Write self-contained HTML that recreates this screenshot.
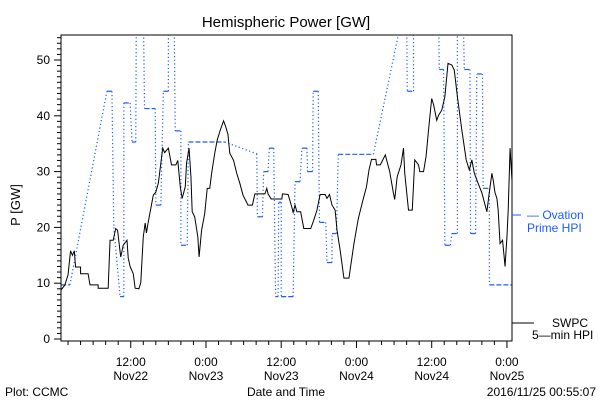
<!DOCTYPE html>
<html><head><meta charset="utf-8"><style>
body{margin:0;background:#fff;}
svg{display:block;font-family:"Liberation Sans",sans-serif;}
</style></head><body>
<svg id="chart" width="600" height="400" viewBox="0 0 600 400" xmlns="http://www.w3.org/2000/svg">
<rect x="0" y="0" width="600" height="400" fill="#fff"/>
<text x="286" y="27" font-size="15" text-anchor="middle" fill="#000">Hemispheric Power [GW]</text>
<text x="0" y="0" font-size="13" text-anchor="middle" transform="translate(20,205) rotate(-90)" fill="#000">P [GW]</text>
<text x="5" y="396" font-size="12" fill="#000">Plot: CCMC</text>
<text x="286" y="396" font-size="12" text-anchor="middle" fill="#000">Date and Time</text>
<text x="596" y="396" font-size="12" text-anchor="end" fill="#000">2016/11/25 00:55:07</text>
<g id="axes"></g>
<g id="series"></g>
<rect x="61" y="35" width="451" height="306" fill="none" stroke="#000" stroke-width="1"/>
<line x1="512" y1="215" x2="521" y2="215" stroke="#1a5cff" stroke-width="1"/>
<text x="527" y="219" font-size="12" fill="#1a5cff">— Ovation</text>
<text x="527" y="232" font-size="12" fill="#1a5cff">Prime HPI</text>
<line x1="512" y1="323" x2="534" y2="323" stroke="#000" stroke-width="1"/>
<text x="552" y="327" font-size="12" fill="#000">SWPC</text>
<text x="532" y="339" font-size="12" fill="#000">5—min HPI</text>
</svg>
<script>
// hours since Nov22 00:00, values in GW
const yTicks = [0,10,20,30,40,50];
const xTickHours = [12,24,36,48,60,72];
const xTickTop = ["12:00","0:00","12:00","0:00","12:00","0:00"];
const xTickBottom = ["Nov22","Nov23","Nov23","Nov24","Nov24","Nov25"];
const swpcHours = [0.9,1.5,2.0,2.4,2.7,3.0,3.2,4.0,4.0,5.2,5.5,6.8,6.8,8.4,8.7,9.2,9.6,9.9,10.4,10.8,11.4,11.6,11.9,12.4,12.7,13.3,13.6,14.0,14.3,14.5,14.8,15.2,15.6,16.0,16.4,16.8,17.1,17.4,18.0,18.5,19.2,19.5,19.9,20.2,20.7,20.9,21.3,21.6,21.8,22.2,22.7,22.9,23.3,23.8,24.2,24.6,24.9,25.4,25.8,26.3,26.8,27.1,27.5,27.8,28.4,28.9,29.4,29.9,30.7,31.4,31.8,33.4,33.7,33.9,34.4,36.1,36.2,37.1,37.6,37.9,38.2,38.5,39.1,39.6,40.7,41.1,41.7,42.2,43.0,43.3,43.7,44.1,44.6,44.9,45.4,46.0,46.8,47.6,48.3,48.9,49.6,50.0,50.4,51.1,51.2,51.8,52.6,53.3,53.9,54.1,54.5,55.1,55.5,55.7,56.3,56.9,57.3,57.9,58.1,58.7,59.1,59.5,60.0,60.3,60.8,61.1,61.6,62.1,62.6,63.2,63.6,64.1,64.8,65.5,66.0,66.4,66.8,67.4,68.0,68.3,68.8,69.1,69.6,69.8,70.1,70.4,70.6,70.9,71.3,71.7,72.0,72.2,72.5,72.8];
const swpcValues = [8.8,9.7,11.5,15.8,15.0,15.8,12.9,12.9,11.7,11.7,9.7,9.7,9.1,9.1,17.7,17.7,19.8,19.5,14.7,16.8,17.7,14.5,13,11.7,9.1,9,10.1,18.3,20.8,19,21,23.4,25.8,26.3,27.9,31.5,34.2,33.4,34.2,31.2,31.2,32,27.3,25.2,27.3,31.5,34.2,29.1,22.8,21.9,18.3,14.7,19.5,22.5,27,27,29.7,33.3,35.7,37.5,39.1,38.2,36.7,33.3,32,29.7,27.9,25.8,24,24,26,26,27,26,25.1,25.1,26,25.9,24,22.7,24,22.8,22.8,19.8,19.8,21,23.1,25.9,25.9,25.2,25.9,24,23.1,19.5,15.9,10.9,10.9,17.1,21.6,24.3,27.3,30.3,32.2,32.2,31.2,31.2,33,30,26.1,25,29.1,31.2,34.2,29.7,23.1,23.1,32.1,31.2,30,30,32.7,37.5,43.1,42,39.2,40.1,41,43.4,49.4,49.1,48.2,43.4,37.5,32.1,30.3,32.1,29.7,27.9,26.2,24.9,22.8,25.5,29.7,28.5,26.2,25.2,23.1,17.1,17.7,13,18.3,23.1,34.2,28.5];
const ovationHours = [0.9,2.3,8.2,9.0,9.3,10.3,10.9,10.9,11.9,12.2,12.8,12.9,14.0,14.2,15.9,16.0,16.8,17.2,18.0,18.0,18.9,19.1,20.0,20.0,21.0,21.2,27.0,32.1,32.2,33.0,33.2,33.9,34.1,34.8,35.1,35.5,35.6,36.0,36.0,37.9,38.2,39.0,39.3,40.1,40.2,41.0,41.1,41.9,42.1,43.1,43.3,44.1,44.1,44.8,45.1,50.7,55.7,56.0,56.1,57.1,57.1,61.1,61.2,61.9,62.1,63.0,63.2,64.1,64.1,65.0,65.2,66.1,66.2,67.0,67.2,68.1,68.2,69.2,69.2,72.9];
const ovationValues = [9.7,9.7,44.4,44.4,20,7.6,7.6,42.3,42.3,35.3,35.3,60,60,41.3,41.3,24,24,44.4,44.4,60,60,37.3,37.3,16.8,16.8,35.3,35.3,33.2,21.9,21.9,30,30,34.2,34.2,7.6,7.6,24.5,24.5,7.6,7.6,28.2,28.2,34.2,34.2,30,30,44.4,44.4,20.9,20.9,13.7,13.7,18.9,18.9,33.1,33.1,60,60,44.4,44.4,60,60,48.3,48.3,16.8,16.8,18.9,18.9,60,60,48.3,48.3,18.9,18.9,47.5,47.5,27,27,9.7,9.7];

const NS="http://www.w3.org/2000/svg";
const L=61,R=512,T=35,B=341;
function xs(h){return 55.5 + h*6.27;}
function ys(v){return 339 - v*5.58;}
const axes=document.getElementById('axes');
const series=document.getElementById('series');
function mk(tag,attrs,parent){const e=document.createElementNS(NS,tag);for(const k in attrs)e.setAttribute(k,attrs[k]);parent.appendChild(e);return e;}

for(let v=0;v<=54;v++){
  const y=ys(v), major=(v%10===0);
  const t=mk('line',{x1:L,x2:L-(major?7:4),y1:y,y2:y,stroke:'#000','stroke-width':1},axes);
  
  
}
yTicks.forEach(v=>{
  const t=mk('text',{x:50,y:ys(v)+4,'font-size':12,'text-anchor':'end',fill:'#000'},axes);
  t.textContent=v;
  
  
});
for(let h=2;h<=72;h+=2){
  const x=xs(h), major=(h%12===0);
  if(x<L||x>R)continue;
  const t=mk('line',{x1:x,x2:x,y1:B,y2:B+(major?7:4),stroke:'#000','stroke-width':1},axes);
  
  
}
xTickHours.forEach((h,i)=>{
  const a=mk('text',{x:xs(h),y:366,'font-size':12,'text-anchor':'middle',fill:'#000'},axes);
  a.textContent=xTickTop[i];
  
  
  const b=mk('text',{x:xs(h),y:380,'font-size':12,'text-anchor':'middle',fill:'#000'},axes);
  b.textContent=xTickBottom[i];
  
  
});

const defs=mk('defs',{},series);
const cp=mk('clipPath',{id:'plotclip'},defs);
mk('rect',{x:L,y:T,width:R-L,height:B-T},cp);
const g=mk('g',{'clip-path':'url(#plotclip)'},series);

for(let i=0;i<ovationHours.length-1;i++){
  const horiz=ovationValues[i]===ovationValues[i+1];
  const s=mk('line',{x1:xs(ovationHours[i]),y1:ys(ovationValues[i]),x2:xs(ovationHours[i+1]),y2:ys(ovationValues[i+1]),stroke:'#1a5cff','stroke-width':1.2,'stroke-dasharray':horiz?'5,2':'1.2,2.5'},g);
  
  
}
let d='';
for(let i=0;i<swpcHours.length;i++){
  const x=xs(swpcHours[i]),y=ys(swpcValues[i]);
  if(i===0)d+='M'+x+','+y;else d+='L'+x+','+y;
}
const p=mk('path',{d:d,fill:'none',stroke:'#000','stroke-width':1,'stroke-linejoin':'miter'},g);


</script>
</body></html>
